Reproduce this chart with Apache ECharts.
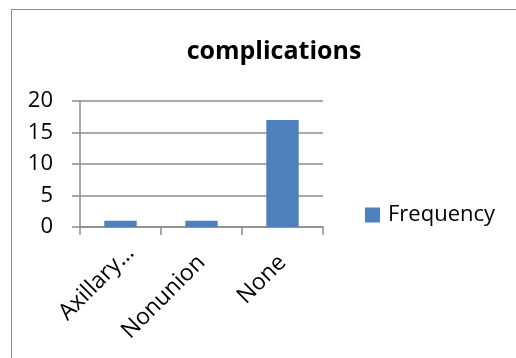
<!DOCTYPE html>
<html>
<head>
<meta charset="utf-8">
<style>
  html, body { margin: 0; padding: 0; background: #fff; }
  #frame { position: absolute; left: 11px; top: 9px; width: 520px; height: 360px; border: 1.5px solid #8c8c8c; box-sizing: border-box; }
  #chart { position: absolute; left: 0; top: 0; width: 516px; height: 358px; }
</style>
<script src="https://cdn.jsdelivr.net/npm/echarts@6/dist/echarts.min.js"></script>
</head>
<body>
<div id="frame"></div>
<div id="chart"></div>
<script>
// Complication counts by category
const categories = ['Axillary…', 'Nonunion', 'None'];
const frequency = [1, 1, 17];
const yTicks = { min: 0, max: 20, interval: 5 };

const font = "'Open Sans', 'DejaVu Sans', sans-serif";

// The truncated first label sits a little further along its baseline
const categoryData = categories.map((name, i) =>
  i === 0 ? { value: name, textStyle: { padding: [0, -14, 0, 0] } } : name
);

const chart = echarts.init(document.getElementById('chart'), null, { renderer: 'canvas' });
chart.setOption({
  animation: false,
  title: {
    text: 'complications',
    left: 269, top: 34, textAlign: 'center',
    textStyle: { fontFamily: font, fontWeight: 'bold', fontSize: 25, color: '#000' }
  },
  legend: {
    data: ['Frequency'],
    orient: 'vertical',
    left: 365, top: 204, padding: 0,
    itemWidth: 15, itemHeight: 15, itemGap: 6,
    icon: 'rect',
    textStyle: { fontFamily: font, fontSize: 22, color: '#000', padding: [0, 0, 0, 3] }
  },
  grid: { left: 80, right: 193, top: 101, bottom: 131, containLabel: false },
  xAxis: {
    type: 'category',
    data: categoryData,
    boundaryGap: true,
    axisLine: { lineStyle: { color: '#8c8c8c', width: 1.5 } },
    axisTick: { show: true, length: 8, alignWithLabel: false, lineStyle: { color: '#8c8c8c', width: 1.5 } },
    axisLabel: { rotate: 45, margin: 32, fontFamily: font, fontSize: 23, color: '#000', interval: 0 }
  },
  yAxis: {
    type: 'value',
    min: yTicks.min, max: yTicks.max, interval: yTicks.interval,
    axisLine: { show: true, lineStyle: { color: '#8c8c8c', width: 1.5 } },
    axisTick: { show: true, length: 8, lineStyle: { color: '#8c8c8c', width: 1.5 } },
    splitLine: { lineStyle: { color: '#8c8c8c', width: 1.5 } },
    axisLabel: { margin: 27, fontFamily: font, fontSize: 22, color: '#000' }
  },
  series: [{
    name: 'Frequency',
    type: 'bar',
    data: frequency,
    barWidth: '40%',
    itemStyle: { color: '#4f81bd' }
  }]
});
</script>
</body>
</html>
